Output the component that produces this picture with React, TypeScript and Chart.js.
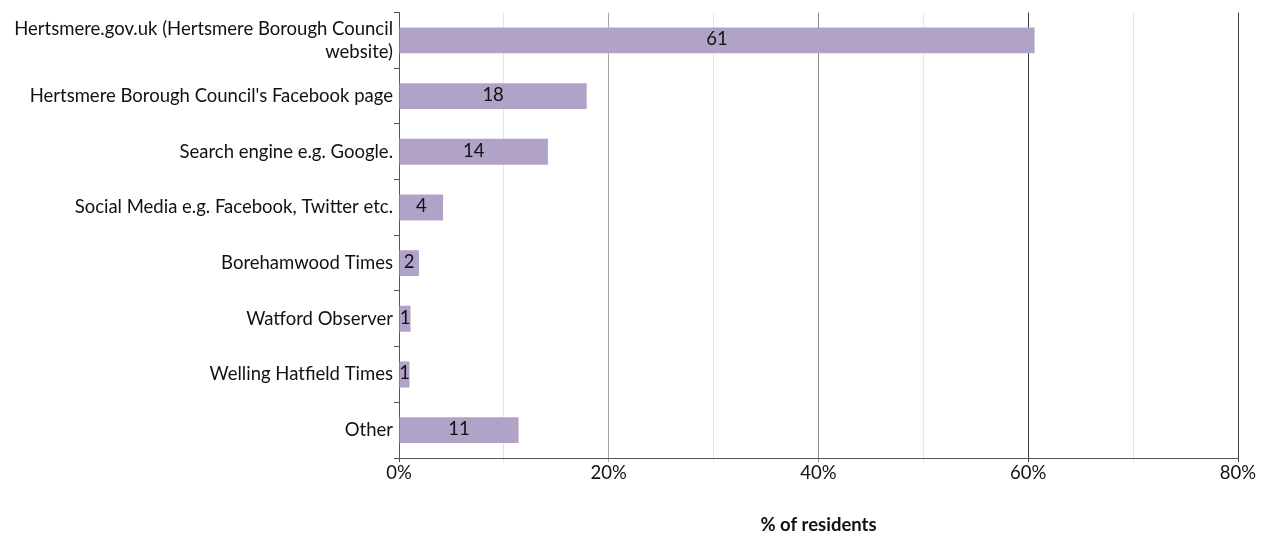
import React, { useEffect, useRef } from 'react';
import { Chart, registerables } from 'chart.js';

Chart.register(...registerables);

const categories: (string | string[])[] = [
  ['Hertsmere.gov.uk (Hertsmere Borough Council', 'website)'],
  "Hertsmere Borough Council's Facebook page",
  'Search engine e.g. Google.',
  'Social Media e.g. Facebook, Twitter etc.',
  'Borehamwood Times',
  'Watford Observer',
  'Welling Hatfield Times',
  'Other',
];
const values = [60.6, 17.9, 14.2, 4.2, 1.9, 1.1, 1.0, 11.4];
const valueLabels = ['61', '18', '14', '4', '2', '1', '1', '11'];
const axisTitle = '% of residents';

const FONT = 'Lato, "Open Sans", sans-serif';
const FS = 18.5;

const gridColorFor = (v: number) => {
  if (v === 0) return '#555555';
  if (v === 20) return '#a6a6a6';
  if (v === 40) return '#8c8c8c';
  if (v === 60 || v === 80) return '#404040';
  return '#e6e6e6';
};

const barLabelPlugin = {
  id: 'barLabels',
  afterDatasetsDraw(chart: any) {
    const ctx = chart.ctx;
    const meta = chart.getDatasetMeta(0);
    ctx.save();
    ctx.font = `${FS}px ${FONT}`;
    ctx.fillStyle = '#111111';
    ctx.textAlign = 'center';
    ctx.textBaseline = 'middle';
    meta.data.forEach((bar: any, i: number) => {
      const cx = (bar.x + bar.base) / 2;
      ctx.fillText(valueLabels[i], cx, bar.y - 1);
    });
    ctx.restore();
  },
};

export default function App() {
  const ref = useRef<HTMLCanvasElement | null>(null);
  useEffect(() => {
    document.body.style.margin = '0';
    if (!ref.current) return;
    const chart = new Chart(ref.current, {
      type: 'bar',
      data: {
        labels: categories as any,
        datasets: [
          {
            data: values,
            backgroundColor: '#b1a2c8',
            borderWidth: 0,
            barPercentage: 0.465,
            categoryPercentage: 1,
          },
        ],
      },
      options: {
        indexAxis: 'y',
        animation: false,
        responsive: false,
        layout: { padding: { top: 9, right: 29, left: 0, bottom: 0 } },
        plugins: {
          legend: { display: false },
          tooltip: { enabled: false },
        },
        scales: {
          x: {
            min: 0,
            max: 80,
            afterFit: (s: any) => {
              s.height = 78;
            },
            ticks: {
              stepSize: 10,
              autoSkip: false,
              maxRotation: 0,
              padding: 0,
              color: '#111111',
              font: { family: FONT, size: FS },
              callback: (v: any) => (Number(v) % 20 === 0 ? `${v}%` : ''),
            },
            grid: {
              color: (c: any) => gridColorFor(c.tick ? c.tick.value : 0),
              lineWidth: 1,
              tickLength: 4,
              tickColor: (c: any) => gridColorFor(c.tick ? c.tick.value : 0),
            },
            border: { display: true, color: '#555555', width: 1 },
            title: {
              display: true,
              text: axisTitle,
              color: '#111111',
              font: { family: FONT, size: FS, weight: 'bold' },
              padding: { top: 4, bottom: 0 },
            },
          },
          y: {
            offset: true,
            afterFit: (s: any) => {
              s.width = 399;
            },
            ticks: {
              autoSkip: false,
              padding: 1,
              color: '#111111',
              font: { family: FONT, size: FS, lineHeight: 1.25 },
            },
            grid: {
              offset: true,
              drawOnChartArea: false,
              drawTicks: true,
              tickLength: 5,
              color: '#555555',
            },
            border: { display: true, color: '#555555', width: 1 },
          },
        },
      },
      plugins: [barLabelPlugin],
    });
    return () => chart.destroy();
  }, []);
  return <canvas ref={ref} width={1267} height={536} style={{ display: 'block' }} />;
}
